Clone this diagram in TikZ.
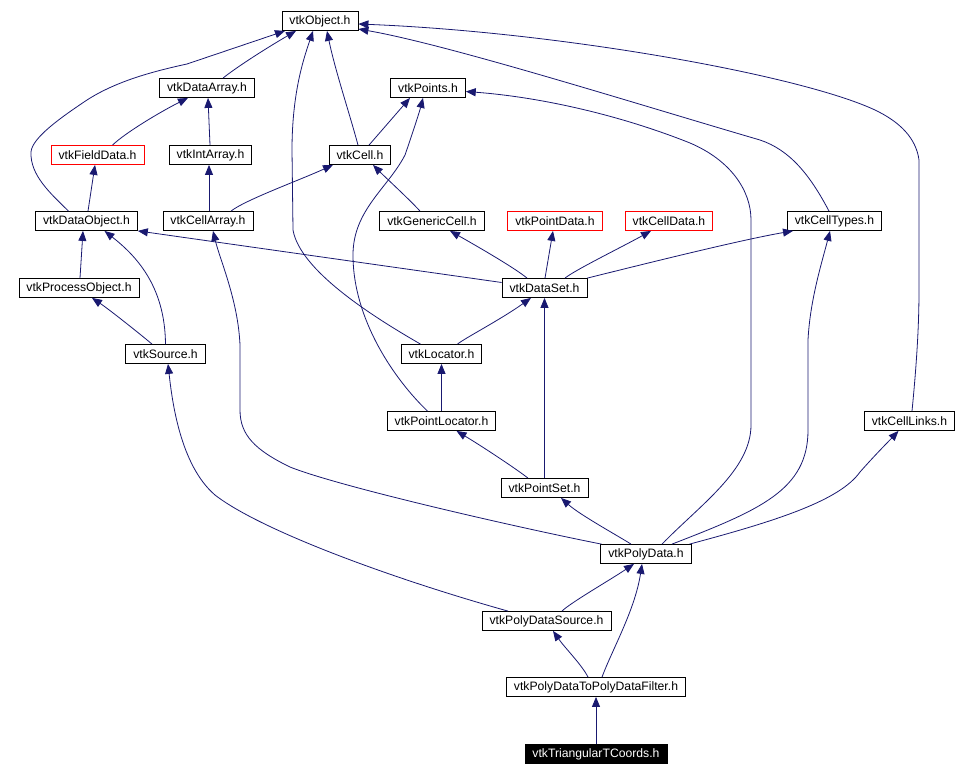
\documentclass[tikz,border=0pt]{standalone}
\usepackage{fontspec}
\setmainfont{Liberation Sans}
\usepackage{tikz}
\usetikzlibrary{arrows.meta}
\definecolor{edge}{HTML}{191970}
\definecolor{missing}{HTML}{FF0000}
\tikzset{
  hdr/.style={draw=black, fill=white, line width=0.8pt, inner xsep=7.5pt,
              inner ysep=0pt, minimum height=19pt, font=\fontsize{12.2}{14}\selectfont},
  hdrmiss/.style={hdr, draw=missing},
  hdrroot/.style={hdr, fill=black, text=white},
  dep/.style={-{Triangle[length=10pt,width=8pt]}, line width=0.8pt, draw=edge}
}

\begin{document}
\begin{tikzpicture}[x=1pt,y=-1pt]
  \useasboundingbox (0,0) rectangle (958,776);

  % headers, one row at a time
  \node[hdr] (obj) at (320,21) {vtkObject.h};
  \node[hdr] (dataarr) at (207,88) {vtkDataArray.h};
  \node[hdr] (points) at (428,88) {vtkPoints.h};
  \node[hdrmiss] (fielddata) at (97.5,155) {vtkFieldData.h};
  \node[hdr] (intarr) at (210.5,155) {vtkIntArray.h};
  \node[hdr] (cell) at (360,155) {vtkCell.h};
  \node[hdr] (dataobj) at (86.5,221) {vtkDataObject.h};
  \node[hdr] (cellarr) at (208,221) {vtkCellArray.h};
  \node[hdr] (gencell) at (432,221) {vtkGenericCell.h};
  \node[hdrmiss] (pointdata) at (555,221) {vtkPointData.h};
  \node[hdrmiss] (celldata) at (669,221) {vtkCellData.h};
  \node[hdr] (celltypes) at (834.5,221) {vtkCellTypes.h};
  \node[hdr] (procobj) at (79,288) {vtkProcessObject.h};
  \node[hdr] (dataset) at (544.5,288) {vtkDataSet.h};
  \node[hdr] (source) at (165.5,354) {vtkSource.h};
  \node[hdr] (locator) at (441.5,354) {vtkLocator.h};
  \node[hdr] (pointloc) at (441.5,421) {vtkPointLocator.h};
  \node[hdr] (celllinks) at (909.5,421) {vtkCellLinks.h};
  \node[hdr] (pointset) at (544.5,488) {vtkPointSet.h};
  \node[hdr] (polydata) at (646,554) {vtkPolyData.h};
  \node[hdr] (polysrc) at (546.5,621) {vtkPolyDataSource.h};
  \node[hdr] (pdfilter) at (596,687) {vtkPolyDataToPolyDataFilter.h};
  \node[hdrroot] (tricoords) at (596,754) {vtkTriangularTCoords.h};

  % into vtkObject.h
  \draw[dep] ([xshift=16pt]dataarr.north) .. controls (238,66) and (270,46) .. ([xshift=-24pt]obj.south);
  \draw[dep] ([xshift=-18pt]dataobj.north) .. controls (50,193) and (30,175) .. (31,152)
    .. controls (32,138) and (60,118) .. (87,100) .. controls (115,82) and (150,72) .. (187,64)
    -- ([xshift=-35pt]obj.south);
  \draw[dep] ([xshift=-2pt]cell.north) .. controls (350,115) and (335,70) .. ([xshift=7pt]obj.south);
  \draw[dep] ([xshift=-21pt]locator.north) .. controls (370,315) and (300,270) .. (293,230)
    -- (292,150) .. controls (292,90) and (305,55) .. ([xshift=-7pt]obj.south);
  \draw[dep] ([xshift=-5.5pt]celltypes.north) .. controls (810,175) and (790,150) .. (760,140)
    .. controls (640,105) and (450,45) .. ([yshift=-8pt]obj.east);
  \draw[dep] ([xshift=2.5pt]celllinks.north) .. controls (916,370) and (919,330) .. (919,290)
    -- (919,160) .. controls (916,138) and (900,122) .. (875,110)
    .. controls (800,75) and (560,32) .. ([yshift=-3pt]obj.east);

  % vtkDataArray.h, vtkIntArray.h, vtkFieldData.h
  \draw[dep] ([xshift=15pt]fielddata.north) .. controls (125,133) and (160,112) .. ([xshift=-19pt]dataarr.south);
  \draw[dep] ([xshift=-0.5pt]intarr.north) -- ([xshift=1pt]dataarr.south);
  \draw[dep] ([xshift=1pt]cellarr.north) -- ([xshift=-1.5pt]intarr.south);
  \draw[dep] ([xshift=1.5pt]dataobj.north) -- ([xshift=-2.5pt]fielddata.south);

  % vtkPoints.h
  \draw[dep] ([xshift=9pt]cell.north) -- ([xshift=-18pt]points.south);
  \draw[dep] ([xshift=-14pt]pointloc.north) .. controls (395,380) and (353,320) .. (353,255)
    .. controls (353,210) and (388,188) .. (405,155) .. controls (412,135) and (420,110) .. ([xshift=-5pt]points.south);
  \draw[dep] ([xshift=16pt]polydata.north) .. controls (700,505) and (751,470) .. (751,425)
    -- (751,220) .. controls (751,190) and (730,160) .. (690,143)
    .. controls (620,115) and (540,97) .. ([yshift=-3.5pt]points.east);

  % vtkCell.h
  \draw[dep] ([xshift=23pt]cellarr.north) .. controls (245,200) and (300,180) .. ([xshift=-27pt]cell.south);
  \draw[dep] ([xshift=-12pt]gencell.north) .. controls (410,200) and (385,177) .. ([xshift=13pt]cell.south);

  % vtkDataObject.h, vtkProcessObject.h
  \draw[dep] ([xshift=1pt]procobj.north) -- ([xshift=-3.5pt]dataobj.south);
  \draw[dep] (source.north) .. controls (165,285) and (135,255) .. ([xshift=18pt]dataobj.south);
  \draw[dep] ([yshift=5.5pt]dataset.west) -- (dataobj.south east);
  \draw[dep] ([xshift=-13.5pt]source.north) .. controls (145,338) and (110,310) .. ([xshift=13pt]procobj.south);

  % vtkDataSet.h
  \draw[dep] ([xshift=-17.5pt]dataset.north) .. controls (515,268) and (475,245) .. ([xshift=18pt]gencell.south);
  \draw[dep] ([xshift=0.5pt]dataset.north) -- ([xshift=-2pt]pointdata.south);
  \draw[dep] ([xshift=20.5pt]dataset.north) .. controls (575,270) and (620,248) .. ([xshift=-18pt]celldata.south);
  \draw[dep] (dataset.north east) .. controls (640,265) and (740,240) .. ([xshift=-41.5pt]celltypes.south);

  % locators, point set
  \draw[dep] ([xshift=16pt]locator.north) .. controls (465,338) and (500,320) .. ([xshift=-13.5pt]dataset.south);
  \draw[dep] (pointloc.north) -- (locator.south);
  \draw[dep] (pointset.north) -- (dataset.south);
  \draw[dep] ([xshift=-16.5pt]pointset.north) .. controls (515,468) and (480,445) .. ([xshift=15pt]pointloc.south);

  % vtkPolyData.h
  \draw[dep] ([xshift=-15pt]polydata.north) .. controls (620,537) and (580,515) .. ([xshift=16.5pt]pointset.south);
  \draw[dep] ([xshift=1pt]polydata.north west) .. controls (520,528) and (340,487) .. (290,467)
    .. controls (255,450) and (240,435) .. (240,410) -- (240,345)
    .. controls (238,300) and (220,260) .. ([xshift=5pt]cellarr.south);
  \draw[dep] ([xshift=26pt]polydata.north) .. controls (760,510) and (808,490) .. (808,430)
    -- (808,340) .. controls (810,300) and (822,262) .. ([xshift=-4.5pt]celltypes.south);
  \draw[dep] ([xshift=-2pt]polydata.north east) .. controls (780,520) and (840,500) .. (860,472)
    .. controls (875,455) and (888,442) .. ([xshift=-11pt]celllinks.south);

  % sources and filter
  \draw[dep] ([xshift=15.5pt]polysrc.north) .. controls (570,603) and (610,580) .. ([xshift=-12pt]polydata.south);
  \draw[dep] ([xshift=-38.5pt]polysrc.north) .. controls (390,578) and (260,530) .. (215,495)
    .. controls (180,465) and (172,400) .. ([xshift=2.5pt]source.south);
  \draw[dep] ([xshift=-8pt]pdfilter.north) .. controls (582,665) and (565,648) .. ([xshift=6.5pt]polysrc.south);
  \draw[dep] ([xshift=6pt]pdfilter.north) .. controls (612,650) and (635,610) .. ([xshift=-4pt]polydata.south);
  \draw[dep] (tricoords.north) -- (pdfilter.south);
\end{tikzpicture}
\end{document}
